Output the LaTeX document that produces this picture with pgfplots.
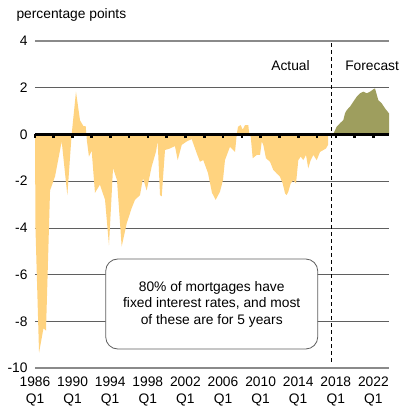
\documentclass[border=0pt]{standalone}
\usepackage{pgfplots}
\pgfplotsset{compat=1.18}
\usepackage{fontspec}
\setmainfont{Liberation Sans}

\definecolor{actualfill}{HTML}{FFD37F}
\definecolor{forecastfill}{HTML}{9E9E5E}
\definecolor{gridgray}{HTML}{5F5F5F}
\definecolor{edgegray}{HTML}{8A8A8A}

\begin{document}
\begin{tikzpicture}[font=\fontsize{13.8}{16.5}\selectfont]
\begin{axis}[
    scale only axis,
    width=354pt, height=327pt,
    xmin=1986, xmax=2023.66,
    ymin=-10, ymax=4,
    axis line style={draw=none},
    xtick={1986,1990,...,2022},
    xticklabels={1986\\Q1,1990\\Q1,1994\\Q1,1998\\Q1,2002\\Q1,2006\\Q1,2010\\Q1,2014\\Q1,2018\\Q1,2022\\Q1},
    xticklabel style={align=center, yshift=-5.5pt},
    ytick={-10,-8,...,4},
    yticklabels={-10,-8,-6,-4,-2,0,2,4},
    yticklabel style={xshift=-4pt},
    tick style={draw=none},
    ymajorgrids,
    grid style={draw=gridgray, line width=0.7pt},
    clip=false,
]
% actual
\addplot[fill=actualfill, draw=none] table {
x y
1986.0 0
1986.05 -4.0
1986.43 -9.35
1986.9 -8.3
1987.17 -8.4
1987.6 -2.4
1988.13 -1.8
1988.84 -0.3
1989.44 -2.6
1989.9 0
1990.36 1.83
1990.79 0.6
1991.16 0.35
1991.39 0.35
1991.53 -0.3
1991.74 -0.95
1992.03 -0.7
1992.38 -2.5
1992.91 -2.15
1993.45 -2.8
1993.87 -4.75
1994.3 -1.45
1994.72 -1.95
1995.22 -4.8
1995.76 -3.8
1996.29 -3.15
1996.64 -2.8
1997.17 -2.6
1997.49 -1.87
1997.88 -2.4
1998.41 -1.38
1998.87 -0.74
1999.05 -0.3
1999.3 -2.6
1999.48 -2.65
1999.83 -0.67
2000.36 -0.6
2000.89 -0.5
2001.18 -1.1
2001.61 -0.45
2002.14 -0.3
2002.67 -0.2
2003.2 -0.8
2003.55 -1.17
2003.9 -1.1
2004.4 -1.65
2004.83 -2.5
2005.22 -2.8
2005.68 -2.45
2006.0 -1.95
2006.21 -1.1
2006.74 -0.53
2007.28 -0.75
2007.46 0
2007.6 0.33
2007.88 0.4
2008.1 0.2
2008.34 0.4
2008.69 0.4
2008.8 0
2008.95 -0.1
2009.16 -1.02
2009.59 -0.88
2009.94 -0.88
2010.12 -0.3
2010.29 -0.45
2010.57 -1.02
2011.0 -1.17
2011.35 -1.52
2011.71 -1.67
2012.06 -1.81
2012.35 -2.1
2012.6 -2.52
2012.77 -2.6
2012.95 -2.45
2013.2 -2.1
2013.48 -1.96
2013.77 -2.1
2014.01 -1.1
2014.27 -0.95
2014.54 -1.1
2014.83 -0.88
2015.07 -1.45
2015.33 -1.1
2015.61 -0.88
2015.97 -1.1
2016.32 -0.75
2016.67 -0.67
2016.96 -0.6
2017.17 -0.45
2017.2 0
};
% forecast
\addplot[fill=forecastfill, draw=none] table {
x y
2017.7 0
2018.1 0.33
2018.45 0.48
2018.8 0.62
2018.98 0.9
2019.16 1.04
2019.51 1.19
2019.86 1.4
2020.22 1.61
2020.57 1.76
2020.93 1.83
2021.29 1.76
2021.64 1.83
2021.99 1.93
2022.17 1.97
2022.52 1.47
2022.88 1.33
2023.23 1.12
2023.66 0.9
2023.66 0
};
% top and bottom rules
\draw[edgegray, line width=1.4pt] (axis cs:1986,4) -- (axis cs:2023.66,4);
\draw[edgegray, line width=1.4pt] (axis cs:1986,-10) -- (axis cs:2023.66,-10);
% zero line with ticks
\draw[black, line width=2.6pt] (axis cs:1986,0) -- (axis cs:2023.66,0);
\pgfplotsinvokeforeach{1986,1988,...,2022}{
  \draw[black, line width=2.6pt] (axis cs:#1,0) -- ([yshift=-3.5pt]axis cs:#1,0);
}
% actual / forecast split
\draw[black, line width=1.1pt, dash pattern=on 4pt off 3pt] (axis cs:2017.56,3.9) -- (axis cs:2017.56,-9.8);
\node[anchor=east] at (axis cs:2015.6,2.94) {Actual};
\node[anchor=west] at (axis cs:2018.63,2.94) {Forecast};
% note box
\node[draw=gridgray, line width=0.8pt, fill=white, rounded corners=12pt,
      minimum width=212pt, minimum height=90pt, align=center, inner sep=2pt]
  at (axis cs:2004.8,-7.26) {80\% of mortgages have\\fixed interest rates, and most\\of these are for 5 years};
\node[anchor=west] at ([xshift=-22pt, yshift=26pt]rel axis cs:0,1) {percentage points};
\end{axis}
\path (current axis.south west) ++(-35pt,-51pt) rectangle ([xshift=30pt, yshift=41pt]current axis.north east);
\end{tikzpicture}
\end{document}
